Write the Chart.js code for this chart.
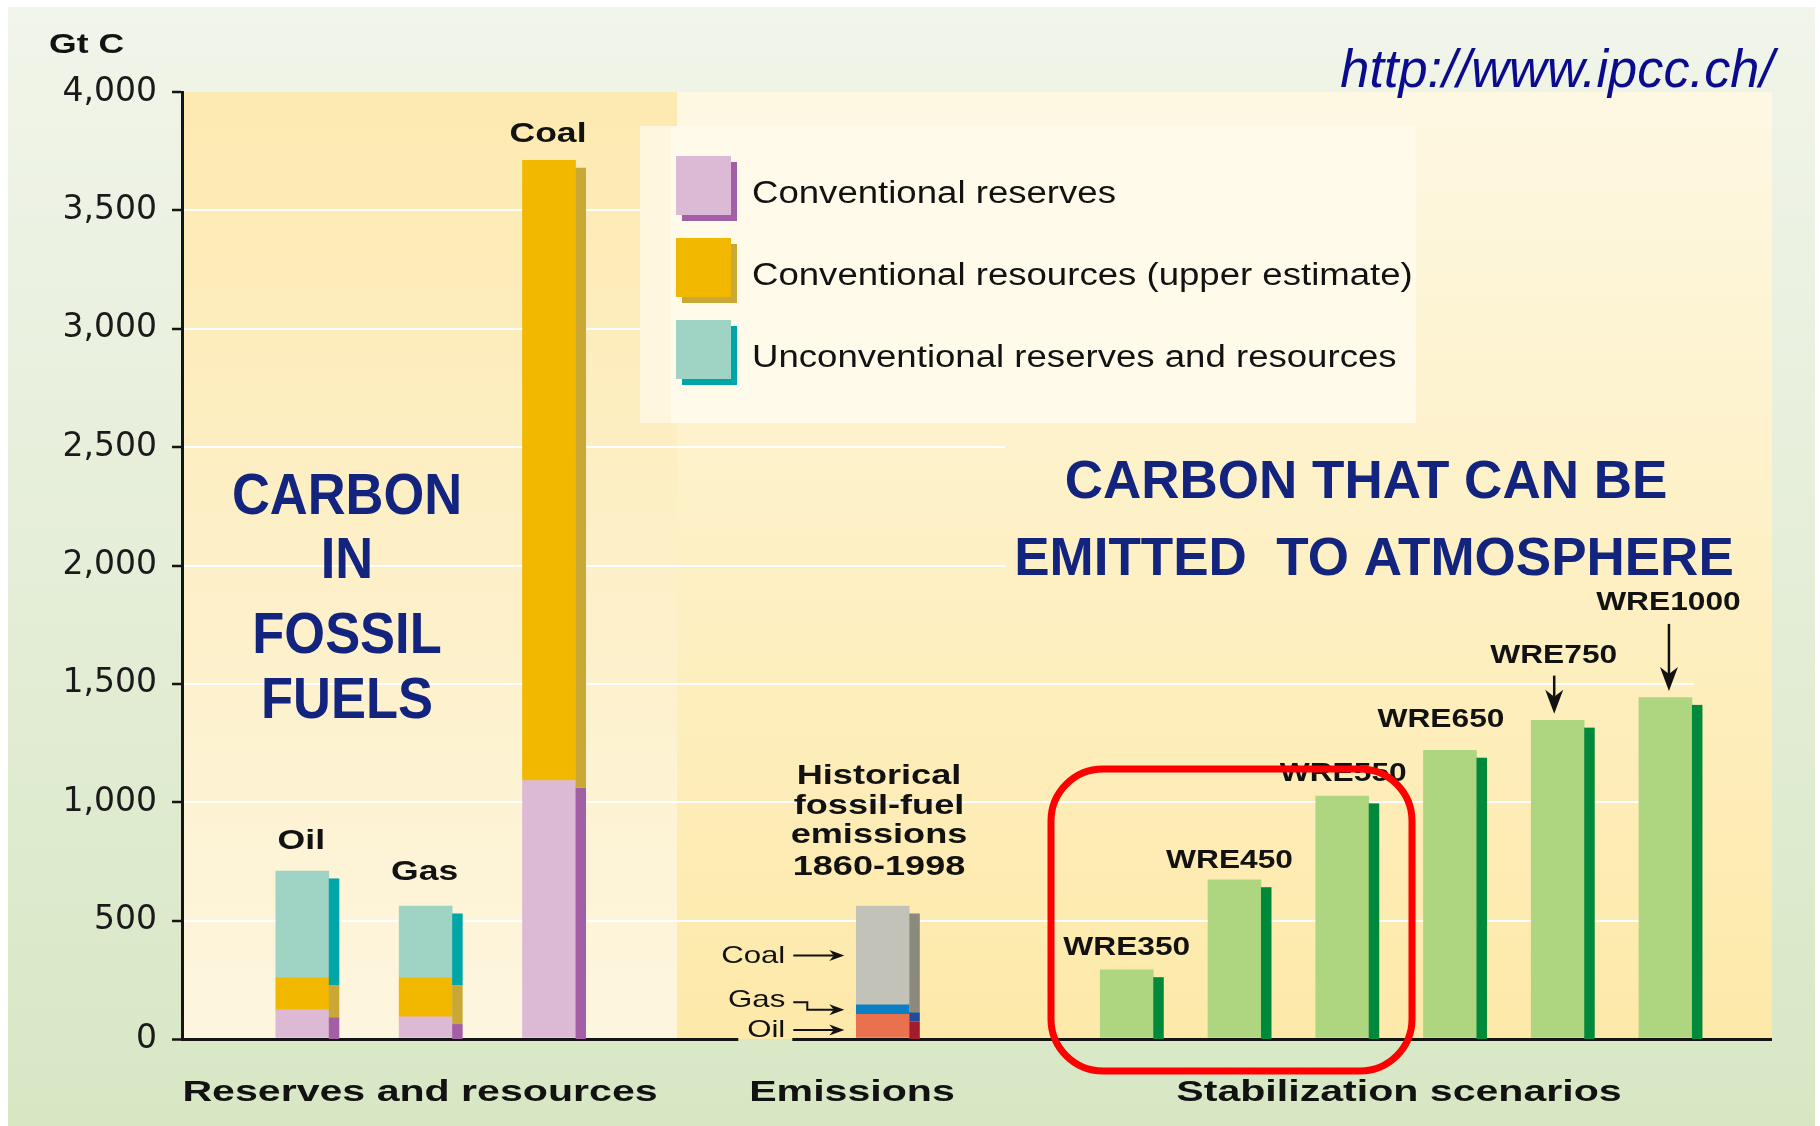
<!DOCTYPE html>
<html>
<head>
<meta charset="utf-8">
<script src="https://cdn.jsdelivr.net/npm/chart.js@4.4.1/dist/chart.umd.min.js"></script>
<style>
  html, body { margin: 0; padding: 0; background: #fff; }
  canvas { display: block; }
</style>
</head>
<body>
<canvas id="chart" width="1820" height="1126"></canvas>
<script>
// ---- data (Gt C) ----
const fossilFuels = ['Oil', 'Gas', 'Coal'];
const conventionalReserves = [123, 94, 1092];
const conventionalResources = [135, 164, 2619];
const unconventionalResources = [451, 303, 0];

const emissionSources = ['Oil', 'Gas', 'Coal'];
const historicalEmissions = [104, 40, 417]; // 1860-1998

const scenarios = ['WRE350', 'WRE450', 'WRE550', 'WRE650', 'WRE750', 'WRE1000'];
const scenarioCarbon = [292, 672, 1026, 1219, 1346, 1442];

const yTickValues = [0, 500, 1000, 1500, 2000, 2500, 3000, 3500, 4000];
const yTickLabels = ['0', '500', '1,000', '1,500', '2,000', '2,500', '3,000', '3,500', '4,000'];

const groupNames = ['Reserves and resources', 'Emissions', 'Stabilization scenarios'];
const legendNames = ['Conventional reserves', 'Conventional resources (upper estimate)', 'Unconventional reserves and resources'];

// ---- styles ----
const FONT = '"Liberation Sans", Arial, Helvetica, sans-serif';
const INK = '#121212';
const NAVY = '#13247f';
const BAR = 53;
const ZONE_SPLIT = 677;

const emissionColors = ['#e9714f', '#0b7fc4', '#c3c2b9'];
const emissionShadows = ['#a11c2c', '#224b95', '#8b8a7c'];

// label placement tweaks, as in the original artwork
const fossilLabelLift = [22, 26, 18];
const scenarioLabelShift = [0, -5, 1, -9, -4, 3];
const scenarioLabelLift = [15, 12, 15, 23, 57, 88];
const scenarioArrow = [0, 0, 0, 0, 38, 67];

const points = arr => arr.map((v, i) => ({ x: i, y: v }));

const datasets = [
  { label: legendNames[0], data: points(conventionalReserves), xAxisID: 'xRes', backgroundColor: '#dcbad6', shadow: '#a35fa5' },
  { label: legendNames[1], data: points(conventionalResources), xAxisID: 'xRes', backgroundColor: '#f2b800', shadow: '#c9a835' },
  { label: legendNames[2], data: points(unconventionalResources), xAxisID: 'xRes', backgroundColor: '#9fd4c5', shadow: '#00a5a7' },
  ...emissionSources.map((name, k) => ({
    label: name, data: [{ x: 0, y: historicalEmissions[k] }], xAxisID: 'xEm',
    backgroundColor: emissionColors[k], shadow: emissionShadows[k]
  })),
  { label: 'Stabilization', data: points(scenarioCarbon), xAxisID: 'xStab', backgroundColor: '#aed680', shadow: '#00883b' }
];
datasets.forEach(d => {
  d.yAxisID = 'y';
  d.barThickness = BAR;
  d.borderWidth = 0;
  d.grouped = false;
});

function text(ctx, s, x, y, o) {
  ctx.save();
  ctx.font = `${o.style || 'normal'} ${o.weight || 'normal'} ${o.size}px ${FONT}`;
  ctx.fillStyle = o.color || INK;
  ctx.textAlign = 'left';
  ctx.textBaseline = 'alphabetic';
  const sx = o.sx || 1;
  const w = ctx.measureText(s).width * sx;
  let left = x;
  if (o.align === 'center') left = x - w / 2;
  else if (o.align === 'right') left = x - w;
  ctx.translate(left, y);
  ctx.scale(sx, 1);
  ctx.fillText(s, 0, 0);
  ctx.restore();
}

function arrow(ctx, pts, head, half, lw) {
  const [px, py] = pts[pts.length - 2];
  const [tx, ty] = pts[pts.length - 1];
  const ang = Math.atan2(ty - py, tx - px);
  const ux = Math.cos(ang), uy = Math.sin(ang);
  ctx.save();
  ctx.strokeStyle = INK;
  ctx.fillStyle = INK;
  ctx.lineWidth = lw;
  ctx.beginPath();
  ctx.moveTo(pts[0][0], pts[0][1]);
  for (let i = 1; i < pts.length - 1; i++) ctx.lineTo(pts[i][0], pts[i][1]);
  ctx.lineTo(tx - ux * head * 0.7, ty - uy * head * 0.7);
  ctx.stroke();
  ctx.beginPath();
  ctx.moveTo(tx, ty);
  ctx.lineTo(tx - ux * head - uy * half, ty - uy * head + ux * half);
  ctx.lineTo(tx - ux * head * 0.7, ty - uy * head * 0.7);
  ctx.lineTo(tx - ux * head + uy * half, ty - uy * head - ux * half);
  ctx.closePath();
  ctx.fill();
  ctx.restore();
}

function fillZones(ctx, a, clip) {
  ctx.save();
  if (clip) { ctx.beginPath(); ctx.rect(clip[0], clip[1], clip[2], clip[3]); ctx.clip(); }
  const gl = ctx.createLinearGradient(0, a.top, 0, a.bottom);
  gl.addColorStop(0, '#fdeab1');
  gl.addColorStop(0.5, '#fdf0c8');
  gl.addColorStop(1, '#fdf6df');
  ctx.fillStyle = gl;
  ctx.fillRect(a.left, a.top, ZONE_SPLIT - a.left, a.bottom - a.top);
  const gr = ctx.createLinearGradient(0, a.top, 0, a.bottom);
  gr.addColorStop(0, '#fef8e3');
  gr.addColorStop(0.5, '#fdf0c4');
  gr.addColorStop(1, '#fde9a9');
  ctx.fillStyle = gr;
  ctx.fillRect(ZONE_SPLIT, a.top, a.right - ZONE_SPLIT, a.bottom - a.top);
  ctx.restore();
}

const background = {
  id: 'background',
  beforeDraw(chart) {
    const { ctx, chartArea: a, width, height } = chart;
    ctx.save();
    ctx.fillStyle = '#ffffff';
    ctx.fillRect(0, 0, width, height);
    const g = ctx.createLinearGradient(0, 7, 0, height);
    g.addColorStop(0, '#f1f5ea');
    g.addColorStop(0.5, '#e5eed8');
    g.addColorStop(1, '#d7e7c4');
    ctx.fillStyle = g;
    ctx.fillRect(8, 7, width - 13, height - 7);
    ctx.restore();
    fillZones(ctx, a);
  }
};

const annotations = {
  id: 'annotations',
  beforeDatasetsDraw(chart) {
    const { ctx, chartArea: a } = chart;
    // the original shows no grid lines behind the upper right panel
    fillZones(ctx, a, [1005, a.top, a.right - 1005, 620 - a.top]);
    fillZones(ctx, a, [1694, 620, a.right - 1694, a.bottom - 3 - 620]);

    // legend panel
    ctx.save();
    ctx.fillStyle = '#fef6dd';
    ctx.fillRect(640, 126, 776, 297);
    ctx.fillStyle = '#fffae9';
    ctx.fillRect(671, 126, 745, 297);
    chart.data.datasets.filter(d => d.xAxisID === 'xRes').forEach((d, k) => {
      const top = 156 + k * 82;
      ctx.fillStyle = d.shadow;
      ctx.fillRect(682, top + 6, 55, 59);
      ctx.fillStyle = d.backgroundColor;
      ctx.fillRect(676, top, 55, 59);
      text(ctx, d.label, 752, top + 47, { size: 31, sx: 1.18 });
    });
    ctx.restore();

    // big titles
    const big = { size: 57, weight: 'bold', color: NAVY, align: 'center', sx: 0.92 };
    text(ctx, 'CARBON', 347, 514, big);
    text(ctx, 'IN', 347, 578, big);
    text(ctx, 'FOSSIL', 347, 653, big);
    text(ctx, 'FUELS', 347, 718, big);
    const big2 = { size: 53, weight: 'bold', color: NAVY, align: 'center' };
    text(ctx, 'CARBON THAT CAN BE', 1366, 498, big2);
    text(ctx, 'EMITTED  TO ATMOSPHERE', 1374, 575, big2);

    const hist = { size: 28, weight: 'bold', align: 'center', sx: 1.29 };
    ['Historical', 'fossil-fuel', 'emissions', '1860-1998'].forEach((s, i) => {
      text(ctx, s, 879, [784, 814, 843, 875][i], hist);
    });
  },
  afterDatasetsDraw(chart) {
    const { ctx } = chart;
    const zeroY = chart.scales.y.getPixelForValue(0);

    // 3-D side shadows of every bar segment
    ctx.save();
    chart.data.datasets.forEach((d, di) => {
      chart.getDatasetMeta(di).data.forEach(el => {
        const top = Math.min(el.y, el.base), bottom = Math.max(el.y, el.base);
        if (bottom - top < 0.5) return;
        const x = el.x + el.width / 2;
        ctx.fillStyle = d.shadow;
        ctx.fillRect(x, top + 7.3, 10.5, Math.min(bottom + 7.3, zeroY) - (top + 7.3));
      });
    });
    ctx.restore();

    // fossil fuel names above the stacks
    const resMetas = chart.data.datasets.map((d, i) => d.xAxisID === 'xRes' ? chart.getDatasetMeta(i) : null).filter(Boolean);
    fossilFuels.forEach((name, i) => {
      const els = resMetas.map(m => m.data[i]);
      const top = Math.min(...els.map(e => e.y));
      text(ctx, name, els[0].x - 1, top - fossilLabelLift[i], { size: 28, weight: 'bold', align: 'center', sx: 1.27 });
    });

    // scenario names
    const stabIndex = chart.data.datasets.findIndex(d => d.xAxisID === 'xStab');
    chart.getDatasetMeta(stabIndex).data.forEach((el, i) => {
      text(ctx, scenarios[i], el.x + scenarioLabelShift[i], el.y - scenarioLabelLift[i],
        { size: 26, weight: 'bold', align: 'center', sx: 1.22 });
      if (scenarioArrow[i]) {
        const ax = el.x + scenarioLabelShift[i] + 0.5;
        arrow(ctx, [[ax, el.y - 6.7 - scenarioArrow[i]], [ax, el.y - 6.7]], 24, 9, 2.5);
      }
    });

    // emission source call-outs
    const emIdx = chart.data.datasets.map((d, i) => d.xAxisID === 'xEm' ? i : -1).filter(i => i >= 0);
    const lbl = { size: 24, align: 'right', sx: 1.3 };
    emIdx.forEach((di, k) => {
      const el = chart.getDatasetMeta(di).data[0];
      const mid = (el.y + el.base) / 2;
      const left = el.x - el.width / 2;
      const name = emissionSources[k];
      if (name === 'Gas') {
        text(ctx, name, left - 71, mid - 2.5, lbl);
        arrow(ctx, [[left - 63, mid - 7.5], [left - 49, mid - 7.5], [left - 49, mid], [left - 12, mid]], 15, 5.5, 2);
      } else if (name === 'Oil') {
        ctx.save();
        ctx.fillStyle = '#fde9a9';
        ctx.fillRect(left - 118, zeroY - 2, 54, 2);
        ctx.fillStyle = '#d8e8c5';
        ctx.fillRect(left - 118, zeroY, 54, 2.5);
        ctx.restore();
        text(ctx, name, left - 71, mid + 11, lbl);
        arrow(ctx, [[left - 63, mid + 4], [left - 12, mid + 4]], 15, 5.5, 2);
      } else {
        text(ctx, name, left - 71, mid + 7, lbl);
        arrow(ctx, [[left - 63, mid], [left - 12, mid]], 15, 5.5, 2);
      }
    });

    // group captions, unit, source
    const grp = { size: 30, weight: 'bold', align: 'center', sx: 1.37 };
    text(ctx, groupNames[0], 420, 1101, grp);
    text(ctx, groupNames[1], 852, 1101, grp);
    text(ctx, groupNames[2], 1399, 1101, grp);
    text(ctx, 'Gt C', 49, 53, { size: 28, weight: 'bold', sx: 1.27 });
    text(ctx, 'http://www.ipcc.ch/', 1774, 87, { size: 54, style: 'italic', color: '#0b0b8f', align: 'right', sx: 0.97 });

    // red highlight around the low scenarios
    ctx.save();
    ctx.strokeStyle = '#ff0000';
    ctx.lineWidth = 7;
    const bx = 1051, by = 769, bw = 361, bh = 302, r = 52;
    ctx.beginPath();
    ctx.moveTo(bx + r, by);
    ctx.arcTo(bx + bw, by, bx + bw, by + bh, r);
    ctx.arcTo(bx + bw, by + bh, bx, by + bh, r);
    ctx.arcTo(bx, by + bh, bx, by, r);
    ctx.arcTo(bx, by, bx + bw, by, r);
    ctx.closePath();
    ctx.stroke();
    ctx.restore();
  }
};

const hiddenX = (min, max) => ({
  type: 'linear', display: false, stacked: true, offset: false, bounds: 'data',
  min, max, grid: { offset: false }
});

new Chart(document.getElementById('chart').getContext('2d'), {
  type: 'bar',
  data: { datasets },
  options: {
    responsive: false,
    devicePixelRatio: 1,
    animation: false,
    layout: { padding: { top: 92, right: 48, bottom: 87, left: 0 } },
    plugins: { legend: { display: false }, tooltip: { enabled: false } },
    scales: {
      xRes: hiddenX(-0.9753, 11.915),
      xEm: hiddenX(-7.008, 8.892),
      xStab: hiddenX(-8.769, 5.989),
      y: {
        stacked: true,
        min: 0,
        max: 4000,
        afterBuildTicks: s => { s.ticks = yTickValues.map(v => ({ value: v })); },
        afterFit: s => { s.width = 182; },
        ticks: {
          callback: (v, i) => yTickLabels[i],
          font: { family: '"DejaVu Sans", sans-serif', size: 33 },
          color: '#1a1a1a',
          padding: 15
        },
        grid: {
          color: c => c.tick && c.tick.value === 0 ? '#151515' : (c.tick && c.tick.value === 4000 ? 'rgba(0,0,0,0)' : '#ffffff'),
          lineWidth: c => c.tick && c.tick.value === 0 ? 3 : 2,
          tickColor: '#151515',
          tickLength: 10,
          tickWidth: 2.5
        },
        border: { color: '#151515', width: 3 }
      }
    }
  },
  plugins: [background, annotations]
});
</script>
</body>
</html>
